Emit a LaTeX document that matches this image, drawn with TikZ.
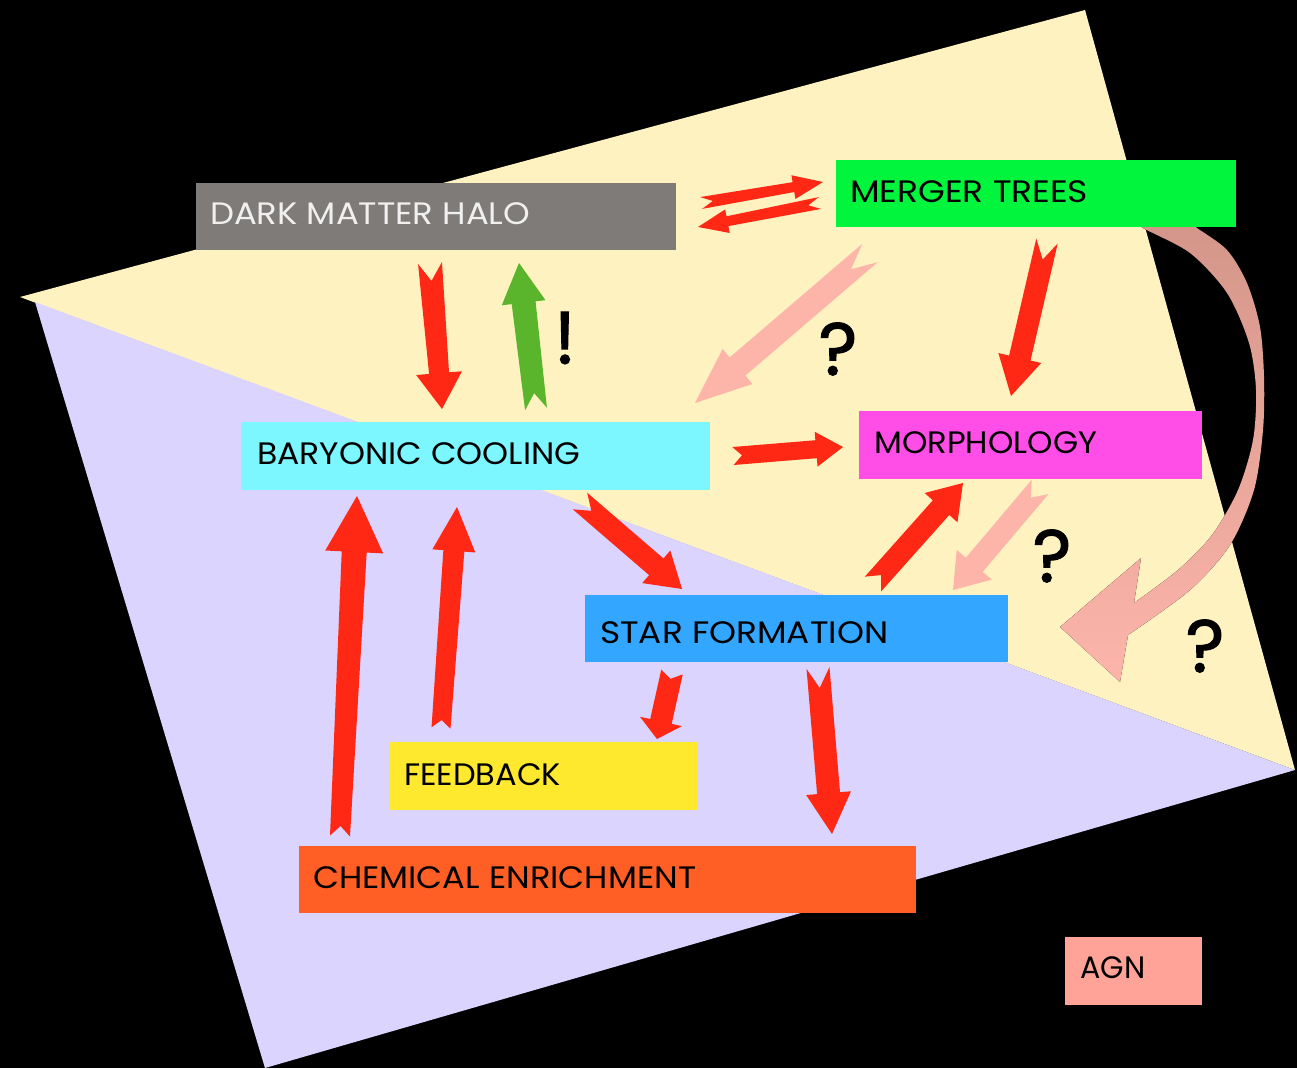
\documentclass[tikz,border=0pt]{standalone}
\usepackage{fontspec}
\usepackage{graphicx}
\setmainfont{Poppins}
\newfontfamily\markfont[FakeBold=1.6]{Poppins}
\usetikzlibrary{calc}
\definecolor{cream}{HTML}{FEF3C0}
\definecolor{lav}{HTML}{DAD4FE}
\definecolor{ared}{HTML}{FE2815}
\definecolor{apink}{HTML}{FDB5AA}
\definecolor{agreen}{HTML}{5BB52C}
\definecolor{cgray}{HTML}{7F7B78}
\definecolor{cgreen}{HTML}{00F53C}
\definecolor{ccyan}{HTML}{7CF6FF}
\definecolor{cmag}{HTML}{FF4DE8}
\definecolor{cblue}{HTML}{33A6FF}
\definecolor{cyel}{HTML}{FFE92E}
\definecolor{corange}{HTML}{FF5F25}
\definecolor{csalmon}{HTML}{FFA398}
\definecolor{curvetop}{HTML}{D4968A}
\definecolor{curvemid}{HTML}{E9A59A}
\newsavebox\fitbox
\newcommand\fitw[2]{\sbox\fitbox{#2}\pgfmathsetmacro\fitsx{#1/\the\wd\fitbox}\scalebox{\fitsx}[1]{\usebox\fitbox}}
% #1 colour, #2 start, #3 tip, #4 tail half width, #5 shaft half width at head,
% #6 head half width, #7 head length, #8 notch depth
\newcommand\barrow[8]{%
 \fill[#1] ($(#2)!#4pt!90:(#3)$) -- ($(#3)!#7pt!(#2)!#5pt!-90:(#2)$)
   -- ($(#3)!#7pt!(#2)!#6pt!-90:(#2)$) -- (#3)
   -- ($(#3)!#7pt!(#2)!#6pt!90:(#2)$) -- ($(#3)!#7pt!(#2)!#5pt!90:(#2)$)
   -- ($(#2)!#4pt!-90:(#3)$) -- ($(#2)!#8pt!(#3)$) -- cycle;}
\tikzset{
  box/.style={rectangle, inner sep=0, draw=none},
  lbl/.style={anchor=base west, inner sep=0, font=\fontsize{31}{36}\selectfont},
  qmark/.style={inner sep=0, font=\markfont\fontsize{74}{78}\selectfont}
}
\begin{document}
\begin{tikzpicture}[x=1pt,y=-1pt]
\useasboundingbox (0,0) rectangle (1297,1068);
\fill[black] (0,0) rectangle (1297,1068);
% background planes
\fill[cream] (20,297) -- (1085,10) -- (1295,770) -- cycle;
\fill[lav] (35,302) -- (1295,770) -- (265,1068) -- cycle;
% curved arrow
\fill[top color=curvetop, middle color=curvemid, bottom color=apink]
  plot[smooth] coordinates {(1140,222) (1143,228) (1190,253) (1227,293) (1249,343) (1256,390) (1253,440) (1238,490) (1212,535) (1178,570) (1134,603)}
  -- (1141,558) -- (1060,627) -- (1120,682) -- (1128,635)
  -- plot[smooth] coordinates {(1128,635) (1190,590) (1230,545) (1254,490) (1263,430) (1264,377) (1260,327) (1247,283) (1227,250) (1197,228) (1190,222)}
  -- cycle;
% boxes
\node[box, fill=cgray, minimum width=480pt, minimum height=67pt] (dmh) at (436,216.5) {};
\node[box, fill=cgreen, minimum width=400pt, minimum height=67pt] (mt) at (1036,193.5) {};
\node[box, fill=ccyan, minimum width=469pt, minimum height=68pt] (bc) at (475.5,456) {};
\node[box, fill=cmag, minimum width=343pt, minimum height=68pt] (mor) at (1030.5,445) {};
\node[box, fill=cblue, minimum width=423pt, minimum height=67pt] (sf) at (796.5,628.5) {};
\node[box, fill=cyel, minimum width=309pt, minimum height=68pt] (fb) at (543.5,776) {};
\node[box, fill=corange, minimum width=617pt, minimum height=67pt] (ce) at (607.5,879.5) {};
\node[box, fill=csalmon, minimum width=137pt, minimum height=68pt] (agn) at (1133.5,971) {};
% labels
\node[lbl, text=white!94!black] (dmht) at (210,224) {\fitw{320}{DARK MATTER HALO}};
\node[lbl] (mtt) at (850,202) {\fitw{238}{MERGER TREES}};
\node[lbl] (bct) at (257,464) {\fitw{323}{BARYONIC COOLING}};
\node[lbl] (mort) at (874,453) {\fitw{223}{MORPHOLOGY}};
\node[lbl] (sft) at (600,643) {\fitw{288}{STAR FORMATION}};
\node[lbl] (fbt) at (404,785) {\fitw{157}{FEEDBACK}};
\node[lbl] (cet) at (313,888) {\fitw{383}{CHEMICAL ENRICHMENT}};
\node[lbl] (agnt) at (1080,978) {\fitw{65}{AGN}};
% arrow end points
\coordinate (a1s) at (701,203);  \coordinate (a1e) at (823,182);
\coordinate (a2s) at (820,203);  \coordinate (a2e) at (698,227);
\coordinate (a3s) at (430,263);  \coordinate (a3e) at (442,409);
\coordinate (a4s) at (536,409);  \coordinate (a4e) at (519,263);
\coordinate (a5s) at (870,253);  \coordinate (a5e) at (695,403);
\coordinate (a6s) at (1047,241); \coordinate (a6e) at (1011,396);
\coordinate (a7s) at (733,456);  \coordinate (a7e) at (843,447);
\coordinate (a8s) at (580,501);  \coordinate (a8e) at (682,589);
\coordinate (a9s) at (873,584);  \coordinate (a9e) at (963,483);
\coordinate (a10s) at (1040,487); \coordinate (a10e) at (953,590);
\coordinate (a11s) at (672,672); \coordinate (a11e) at (657,739);
\coordinate (a12s) at (818,668); \coordinate (a12e) at (832,834);
\coordinate (a13s) at (441,728); \coordinate (a13e) at (457,507);
\coordinate (a14s) at (340,836); \coordinate (a14e) at (357,496);
% arrows
\barrow{ared}{a1s}{a1e}{6}{5}{12}{30}{12}
\barrow{ared}{a2s}{a2e}{6}{5}{12}{30}{12}
\barrow{ared}{a3s}{a3e}{12}{10}{23}{36}{18}
\barrow{agreen}{a4s}{a4e}{11}{12}{22}{40}{16}
\barrow{apink}{a5s}{a5e}{12}{12}{23}{56}{25}
\barrow{ared}{a6s}{a6e}{11}{11}{22}{39}{19}
\barrow{ared}{a7s}{a7e}{9}{9}{17.5}{27}{9}
\barrow{ared}{a8s}{a8e}{11}{11}{21.5}{34}{15}
\barrow{ared}{a9s}{a9e}{11}{11}{22}{33}{12}
\barrow{apink}{a10s}{a10e}{11}{11}{23}{33}{14}
\barrow{ared}{a11s}{a11e}{11}{11}{21.5}{18}{7}
\barrow{ared}{a12s}{a12e}{11.5}{11.5}{22.5}{41}{20}
\barrow{ared}{a13s}{a13e}{9.5}{10.5}{21.5}{44}{8}
\barrow{ared}{a14s}{a14e}{10}{12.5}{29}{56}{10}
% marks
\node[qmark] (ex) at (565,338) {!};
\node[qmark] (q1) at (838,349) {?};
\node[qmark] (q2) at (1052,556) {?};
\node[qmark] (q3) at (1205,646) {?};
\end{tikzpicture}
\end{document}
